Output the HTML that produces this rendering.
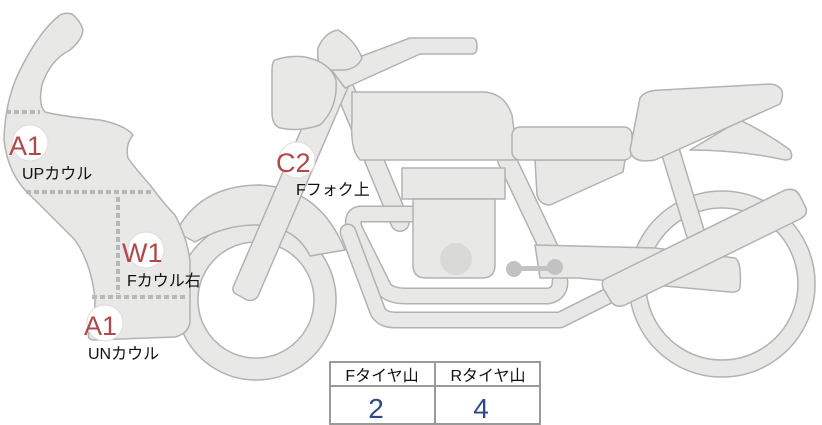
<!DOCTYPE html>
<html><head><meta charset="utf-8"><style>
html,body{margin:0;padding:0;background:#fff;width:822px;height:425px;overflow:hidden}
svg{display:block}
text{font-family:"Liberation Sans","Noto Sans CJK JP",sans-serif}
</style></head><body>
<svg width="822" height="425" viewBox="0 0 822 425" xmlns="http://www.w3.org/2000/svg">
<g fill="#e8e8e6" stroke="#b2b2b2" stroke-width="1.5" stroke-linejoin="round">
<path fill-rule="evenodd" d="M722,191 a93,93 0 1,0 0.1,0 Z M722,208 a76,76 0 1,1 -0.1,0 Z"/>
<path fill-rule="evenodd" d="M256,220 a80,80 0 1,0 0.1,0 Z M256,242 a58,58 0 1,1 -0.1,0 Z"/>
<path d="M176,232 Q200,185 260,185 Q320,188 345,250 L310,256 Q295,225 255,225 Q225,225 195,242 Z"/>
<g fill="none" stroke-linecap="round">
<path d="M340,78 L400,222 M507,160 L552,255 M670,150 L695,232" stroke="#b2b2b2" stroke-width="20"/>
<path d="M340,78 L400,222 M507,160 L552,255 M670,150 L695,232" stroke="#e8e8e6" stroke-width="17"/>
<path d="M415,214 L360,214 Q350,216 355,230 L385,290 Q392,296 405,296 L548,296 Q560,294 560,282" stroke="#b2b2b2" stroke-width="17"/>
<path d="M415,214 L360,214 Q350,216 355,230 L385,290 Q392,296 405,296 L548,296 Q560,294 560,282" stroke="#e8e8e6" stroke-width="14"/>
<path d="M348,232 L378,312 Q383,320 395,320 L560,320 L620,290" stroke="#b2b2b2" stroke-width="17"/>
<path d="M348,232 L378,312 Q383,320 395,320 L560,320 L620,290" stroke="#e8e8e6" stroke-width="14"/>
</g>
<path d="M535,245 L655,248 L735,258 Q742,262 740,288 Q738,293 730,292 L578,278 L540,278 Z"/>
<rect x="402" y="168" width="103" height="31"/>
<path d="M413,199 L495,199 L495,265 Q495,278 482,278 L426,278 Q413,278 413,265 Z"/>
<path d="M535,160 L625,160 L623,172 L550,205 Q540,205 537,195 Z"/>
<path d="M352,92 L485,92 Q505,94 512,115 L518,160 L360,160 Q350,150 352,120 Z"/>
<rect x="512" y="127" width="120" height="33" rx="8"/>
<path d="M740,120 Q770,135 790,150 Q795,160 785,160 Q740,150 690,150 Z"/>
<path d="M640,98 Q645,90 662,90 L770,84 Q788,86 780,104 L655,160 Q632,164 630,150 Z"/>
<path d="M605,279 L783,191 Q795,186 800,196 L806,208 Q808,215 800,219 L625,305 Q615,309 610,300 L603,288 Q601,281 605,279 Z"/>
<path d="M327,70 L352,78 L258,296 Q254,302 247,300 L236,294 Q231,291 234,285 Z"/>
<path d="M330,68 L410,38 L472,38 Q477,38 477,46 Q477,54 472,54 L420,54 L345,88 Z"/>
<path d="M318,48 Q325,32 338,30 Q355,40 362,58 Q358,68 345,70 L325,70 Q316,65 318,48 Z"/>
<path d="M275,60 Q290,55 305,57 Q330,62 336,80 Q338,108 320,125 Q300,132 280,128 Q272,125 272,112 L272,70 Q272,62 275,60 Z"/>
<path d="M72,14 Q80,20 83,30 Q82,40 70,50 Q50,60 42,85 Q38,105 45,112 Q60,116 100,120 Q125,125 133,135 Q125,145 128,158 Q135,168 150,185 Q165,205 175,215 Q188,240 190,262 L190,320 Q190,333 175,337 L95,340 Q85,340 90,330 Q95,320 95,300 Q92,265 75,240 Q50,215 30,195 Q8,175 4,140 Q5,100 20,70 Q40,30 60,15 Q66,12 72,14 Z"/>
</g>
<circle cx="456" cy="259" r="16" fill="#d9d9d7"/>
<g fill="#c2c2c2"><circle cx="514" cy="269" r="8"/><circle cx="555" cy="267" r="8"/><rect x="514" y="266" width="41" height="5"/></g>
<g stroke="#b8b8b8" stroke-width="4" stroke-dasharray="5,3" fill="none">
<path d="M6,112 L40,112"/><path d="M26,192 L152,192"/><path d="M118,197 L118,294"/><path d="M92,297 L188,297"/>
</g>
<g fill="#fff" stroke="#e4dada" stroke-width="1">
<circle cx="30" cy="143" r="18"/><circle cx="146" cy="250" r="18"/><circle cx="105" cy="323" r="18"/><circle cx="297" cy="160" r="18"/>
</g>
<g fill="#b04848" font-size="27">
<text x="9" y="155">A1</text><text x="122" y="262">W1</text><text x="84" y="335">A1</text><text x="276" y="172">C2</text>
</g>
<g fill="#111" font-size="16">
<text x="22" y="179">UPカウル</text>
<text x="127" y="286">Fカウル右</text>
<text x="88" y="359">UNカウル</text>
<text x="296" y="195">Fフォク上</text>
</g>
<g fill="none" stroke="#9a9a9a" stroke-width="2">
<rect x="330" y="362" width="210" height="62"/>
<line x1="330" y1="386" x2="540" y2="386"/>
<line x1="435" y1="362" x2="435" y2="424"/>
</g>
<g font-size="16" fill="#111" text-anchor="middle">
<text x="382" y="381">Fタイヤ山</text><text x="488" y="381">Rタイヤ山</text>
</g>
<g font-size="28" fill="#2e4a86" text-anchor="middle">
<text x="376" y="418">2</text><text x="481" y="418">4</text>
</g>
</svg>
</body></html>
